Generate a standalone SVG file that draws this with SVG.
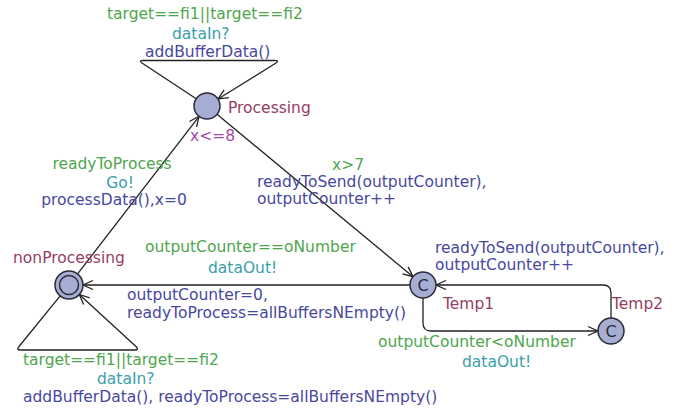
<svg xmlns="http://www.w3.org/2000/svg" width="690" height="414" viewBox="0 0 690 414">
<style>
text{font-family:"DejaVu Sans","Liberation Sans",sans-serif;font-size:15.5px}
.g{fill:#4ea64e}.t{fill:#3aa0ab}.n{fill:#4848a0}.m{fill:#953d64}.v{fill:#a448a8}
.node{fill:#a6aed3;stroke:#2b2b3a;stroke-width:1.5}
.e{fill:none;stroke:#222;stroke-width:1.3;marker-end:url(#arr)}
.c{font-size:16px;fill:#2b2b3a;text-anchor:middle}
</style>
<defs>
<marker id="arr" markerUnits="userSpaceOnUse" markerWidth="14" markerHeight="12" refX="11" refY="6" orient="auto">
<path d="M1,1.5 L11,6 L1,10.5" fill="none" stroke="#222" stroke-width="1.3"/>
</marker>
</defs>
<rect width="690" height="414" fill="#fff"/>
<g id="connectors">
<path class="e" d="M196.2,98.7 L142,63 Q138.5,60.5 143,60.5 L275,60.5 Q279.5,60.5 276,63 L218,99"/>
<path class="e" d="M77.6,273.9 L199.1,116.3"/>
<path class="e" d="M217,114.3 L413,276.7"/>
<path class="e" d="M410,285 L83,285"/>
<path class="e" d="M423,298 L423,323 Q423,331 431,331 L598,331"/>
<path class="e" d="M611,318 L611,293 Q611,285 603,285 L436,285"/>
<path class="e" d="M60.2,295.9 L19,346.5 Q16,350 20.5,350 L134.5,350 Q139.5,350 136,346.5 L79.3,294.5"/>
</g>
<g id="labels">
<text class="g" x="107" y="19">target==fi1||target==fi2</text>
<text class="t" x="172" y="39">dataIn?</text>
<text class="n" x="145" y="57">addBufferData()</text>
<text class="g" x="112" y="169" text-anchor="middle">readyToProcess</text>
<text class="t" x="120" y="188" text-anchor="middle">Go!</text>
<text class="n" x="114" y="205" text-anchor="middle">processData(),x=0</text>
<text class="g" x="332" y="170">x&gt;7</text>
<text class="n" x="257" y="187">readyToSend(outputCounter),</text>
<text class="n" x="257" y="204">outputCounter++</text>
<text class="g" x="145" y="252">outputCounter==oNumber</text>
<text class="t" x="208" y="273">dataOut!</text>
<text class="n" x="435" y="253">readyToSend(outputCounter),</text>
<text class="n" x="435" y="270">outputCounter++</text>
<text class="n" x="127" y="300">outputCounter=0,</text>
<text class="n" x="127" y="317.5">readyToProcess=allBuffersNEmpty()</text>
<text class="g" x="378" y="347">outputCounter&lt;oNumber</text>
<text class="t" x="462" y="367">dataOut!</text>
<text class="g" x="23" y="365">target==fi1||target==fi2</text>
<text class="t" x="97" y="384">dataIn?</text>
<text class="n" x="23" y="402">addBufferData(), readyToProcess=allBuffersNEmpty()</text>
</g>
<g id="Processing">
<circle class="node" cx="207" cy="106" r="13"/>
<text class="m" x="228" y="113">Processing</text>
<text class="v" x="190" y="141">x&lt;=8</text>
</g>
<g id="nonProcessing">
<circle class="node" cx="69" cy="285" r="14"/>
<circle cx="69" cy="285" r="9.5" fill="none" stroke="#2b2b3a" stroke-width="1.5"/>
<text class="m" x="13" y="263">nonProcessing</text>
</g>
<g id="Temp1">
<circle class="node" cx="423" cy="285" r="13"/>
<text class="c" x="423" y="291">C</text>
<text class="m" x="443" y="309">Temp1</text>
</g>
<g id="Temp2">
<circle class="node" cx="611" cy="331" r="13"/>
<text class="c" x="611" y="337">C</text>
<text class="m" x="612" y="309">Temp2</text>
</g>
</svg>
